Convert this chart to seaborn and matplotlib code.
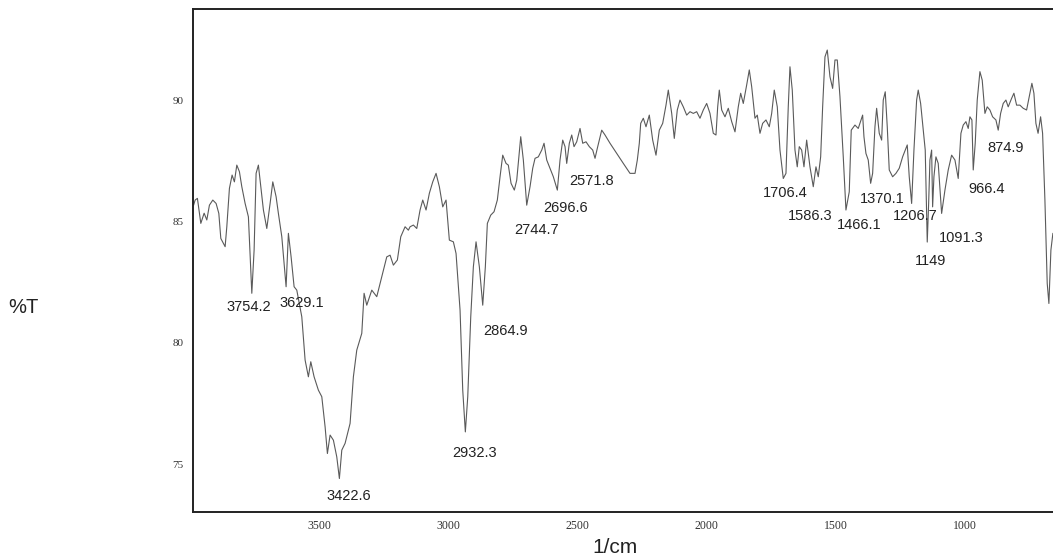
import numpy as np
import pandas as pd
import matplotlib
matplotlib.use("Agg")
import matplotlib.pyplot as plt
import seaborn as sns

# FTIR spectrum (wavenumber in 1/cm, transmittance in %T)
wavenumber = [
    3985.7, 3979.8, 3971.0, 3957.8, 3945.0, 3934.6, 3924.5, 3911.4, 3898.6, 3888.1,
    3880.4, 3863.7, 3857.2, 3847.1, 3836.7, 3827.8, 3818.5, 3808.4, 3799.1, 3786.3,
    3773.6, 3760.4, 3751.5, 3743.8, 3734.9, 3725.6, 3715.5, 3702.4, 3689.6, 3679.2,
    3666.4, 3657.5, 3644.3, 3627.7, 3618.8, 3608.3, 3596.7, 3586.3, 3566.9, 3554.1,
    3541.4, 3532.1, 3519.3, 3502.7, 3489.5, 3476.7, 3467.8, 3457.4, 3444.6, 3431.5,
    3421.4, 3412.1, 3399.3, 3380.0, 3367.2, 3354.1, 3334.7, 3325.8, 3315.4, 3296.0,
    3276.7, 3257.3, 3238.0, 3225.2, 3212.4, 3197.0, 3183.8, 3167.1, 3154.4, 3147.8,
    3135.0, 3121.9, 3109.1, 3098.7, 3085.9, 3073.1, 3060.0, 3047.2, 3034.4, 3021.3,
    3008.5, 2995.7, 2980.2, 2969.8, 2954.3, 2943.9, 2933.8, 2924.5, 2912.9, 2902.8,
    2892.4, 2879.6, 2866.5, 2856.4, 2848.6, 2835.5, 2822.7, 2810.0, 2799.5, 2789.1,
    2776.3, 2767.4, 2756.9, 2744.2, 2734.9, 2719.4, 2709.3, 2696.2, 2683.4, 2673.0,
    2664.0, 2651.3, 2638.1, 2629.2, 2618.8, 2606.0, 2593.2, 2577.7, 2567.3, 2556.9,
    2547.9, 2541.4, 2531.3, 2522.0, 2513.1, 2502.7, 2489.9, 2479.5, 2466.7, 2453.9,
    2440.8, 2431.8, 2423.0, 2405.9, 2393.1, 2373.8, 2347.9, 2322.3, 2296.4, 2277.0,
    2268.1, 2260.4, 2255.0, 2244.9, 2234.5, 2221.7, 2208.6, 2195.8, 2183.0, 2169.9,
    2157.1, 2148.2, 2135.0, 2125.0, 2113.4, 2102.9, 2090.1, 2077.0, 2064.2, 2051.4,
    2038.3, 2025.5, 2012.7, 1999.6, 1986.8, 1974.0, 1963.6, 1957.0, 1950.8, 1941.5,
    1928.7, 1916.0, 1902.8, 1890.0, 1877.3, 1868.0, 1857.9, 1844.8, 1834.7, 1825.4,
    1812.6, 1803.7, 1793.3, 1782.9, 1770.1, 1757.3, 1748.0, 1738.0, 1726.3, 1715.9,
    1703.1, 1692.7, 1683.8, 1677.2, 1668.3, 1657.8, 1649.0, 1641.2, 1631.9, 1623.0,
    1612.6, 1599.8, 1587.0, 1576.6, 1567.7, 1558.4, 1550.7, 1541.7, 1532.8, 1522.4,
    1512.0, 1503.0, 1494.1, 1488.7, 1483.7, 1470.9, 1460.5, 1447.7, 1440.0, 1425.6,
    1412.9, 1406.3, 1395.9, 1390.8, 1383.1, 1374.2, 1364.9, 1357.2, 1348.2, 1341.7,
    1331.6, 1322.3, 1316.1, 1308.4, 1300.6, 1292.9, 1279.8, 1267.0, 1254.2, 1241.1,
    1231.0, 1223.2, 1215.5, 1206.2, 1197.3, 1186.9, 1180.7, 1171.4, 1161.3, 1153.6,
    1145.8, 1140.4, 1135.4, 1128.8, 1125.0, 1119.9, 1112.2, 1103.3, 1090.1, 1077.3,
    1064.6, 1051.4, 1038.6, 1025.9, 1015.4, 1006.5, 996.1, 987.2, 980.6, 972.9,
    967.8, 960.1, 952.3, 941.9, 933.0, 922.5, 913.6, 903.2, 892.8, 880.0,
    871.1, 861.8, 851.7, 841.3, 832.4, 819.2, 810.3, 799.9, 787.1, 774.3,
    761.2, 748.4, 740.7, 732.9, 725.2, 716.8, 707.0, 699.3, 690.3, 681.4,
    674.9, 667.1, 659.4,
]
transmittance = [
    85.67, 85.88, 85.95, 84.92, 85.34, 85.06, 85.67, 85.88, 85.74, 85.33,
    84.30, 83.96, 84.78, 86.36, 86.91, 86.63, 87.32, 87.05, 86.43, 85.74,
    85.19, 82.04, 83.82, 86.98, 87.32, 86.43, 85.47, 84.71, 85.74, 86.63,
    86.02, 85.33, 84.37, 82.31, 84.51, 83.54, 82.31, 82.17, 81.07, 79.29,
    78.60, 79.22, 78.60, 78.05, 77.78, 76.54, 75.44, 76.20, 75.99, 75.30,
    74.41, 75.58, 75.86, 76.68, 78.60, 79.70, 80.39, 82.04, 81.55, 82.17,
    81.90, 82.72, 83.54, 83.61, 83.20, 83.41, 84.37, 84.78, 84.64, 84.78,
    84.85, 84.71, 85.47, 85.88, 85.47, 86.16, 86.63, 86.98, 86.43, 85.60,
    85.88, 84.23, 84.16, 83.68, 81.35, 78.05, 76.33, 77.78, 81.07, 83.13,
    84.16, 83.13, 81.55, 83.13, 84.92, 85.26, 85.40, 85.88, 86.84, 87.73,
    87.39, 87.32, 86.57, 86.29, 86.70, 88.49, 87.53, 85.67, 86.43, 87.19,
    87.60, 87.66, 87.94, 88.22, 87.53, 87.19, 86.84, 86.29, 87.53, 88.35,
    88.08, 87.39, 88.22, 88.56, 88.08, 88.28, 88.83, 88.22, 88.28, 88.08,
    87.94, 87.60, 88.01, 88.76, 88.56, 88.22, 87.80, 87.39, 86.98, 86.98,
    87.53, 88.22, 89.04, 89.25, 88.90, 89.38, 88.35, 87.73, 88.76, 89.04,
    89.79, 90.41, 89.45, 88.42, 89.59, 90.00, 89.72, 89.38, 89.52, 89.45,
    89.52, 89.25, 89.59, 89.86, 89.45, 88.63, 88.56, 89.72, 90.41, 89.59,
    89.31, 89.66, 89.11, 88.69, 89.72, 90.28, 89.86, 90.62, 91.24, 90.55,
    89.25, 89.38, 88.63, 89.04, 89.18, 88.90, 89.45, 90.41, 89.72, 87.94,
    86.77, 86.98, 89.72, 91.37, 90.41, 87.94, 87.25, 88.08, 87.94, 87.25,
    88.35, 87.25, 86.43, 87.25, 86.84, 87.66, 89.72, 91.78, 92.06, 90.96,
    90.48, 91.65, 91.65, 90.89, 90.14, 87.66, 85.47, 86.22, 88.76, 88.97,
    88.83, 89.04, 89.38, 88.49, 87.80, 87.53, 86.57, 86.98, 88.90, 89.66,
    88.63, 88.35, 90.00, 90.34, 88.90, 87.12, 86.84, 86.98, 87.19, 87.66,
    87.94, 88.15, 86.84, 85.74, 87.94, 90.00, 90.41, 89.86, 88.76, 87.94,
    84.15, 85.74, 87.53, 87.94, 85.60, 86.84, 87.66, 87.39, 85.33, 86.29,
    87.12, 87.73, 87.53, 86.77, 88.63, 88.97, 89.11, 88.83, 89.31, 89.18,
    87.12, 88.22, 90.00, 91.17, 90.82, 89.45, 89.72, 89.59, 89.31, 89.18,
    88.76, 89.45, 89.86, 90.00, 89.72, 90.07, 90.28, 89.79, 89.79, 89.66,
    89.59, 90.28, 90.69, 90.28, 89.04, 88.63, 89.31, 88.63, 85.88, 82.45,
    81.62, 83.82, 84.51,
]

# peak annotations (text, x in 1/cm, y in %T)
peak_labels = ["3754.2", "3629.1", "3422.6", "2932.3", "2864.9", "2744.7",
               "2696.6", "2571.8", "1706.4", "1586.3", "1466.1", "1370.1",
               "1206.7", "1149", "1091.3", "966.4", "874.9"]
peak_x = [3772.8, 3567.7, 3383.9, 2896.2, 2778.2, 2658.2, 2544.1, 2443.5,
          1694.6, 1599.8, 1410.2, 1319.2, 1193.5, 1131.5, 1013.5, 914.8, 843.2]
peak_y = [81.47, 81.66, 73.71, 75.48, 80.48, 84.66, 85.57, 86.66,
          86.19, 85.22, 84.85, 85.92, 85.22, 83.37, 84.33, 86.33, 88.04]

x_ticks = [3500, 3000, 2500, 2000, 1500, 1000]
y_ticks = [75, 80, 85, 90]

df = pd.DataFrame({"wn": wavenumber, "T": transmittance})

sns.set_style("white")
plt.rcParams["font.family"] = ["Liberation Sans", "DejaVu Sans"]

fig = plt.figure(figsize=(10.53, 5.56), dpi=100)
ax = fig.add_axes([0.1833, 0.0791, 0.8167, 0.9047])

sns.lineplot(data=df, x="wn", y="T", sort=False, estimator=None,
             color="#5a5a5a", linewidth=0.8, ax=ax)

ax.set_xlim(3988, 659)
ax.set_ylim(73.03, 93.75)
ax.set_xticks(x_ticks)
ax.set_yticks(y_ticks)
ax.set_xticklabels([str(t) for t in x_ticks], family="Liberation Serif",
                   fontsize=8.5, color="#333333")
ax.set_yticklabels([str(t) for t in y_ticks], family="Liberation Serif",
                   fontsize=8, color="#333333")
ax.tick_params(axis="both", direction="out", length=3, width=0.8,
               color="#555555", pad=4)
ax.tick_params(axis="x", pad=3)

for side in ["left", "top", "bottom"]:
    ax.spines[side].set_color("#222222")
    ax.spines[side].set_linewidth(1.4)
ax.spines["right"].set_visible(False)

for lab, px, py in zip(peak_labels, peak_x, peak_y):
    ax.text(px, py, lab, fontsize=10.5, color="#222222",
            ha="center", va="center")

ax.set_xlabel("")
ax.set_ylabel("")
fig.text(0.0218, 0.437, "%T", fontsize=14.5, ha="center", va="baseline",
         color="#222222")
fig.text(0.5845, 0.006, "1/cm", fontsize=15, ha="center", va="baseline",
         color="#222222")

fig.savefig("out.png", dpi=100)
